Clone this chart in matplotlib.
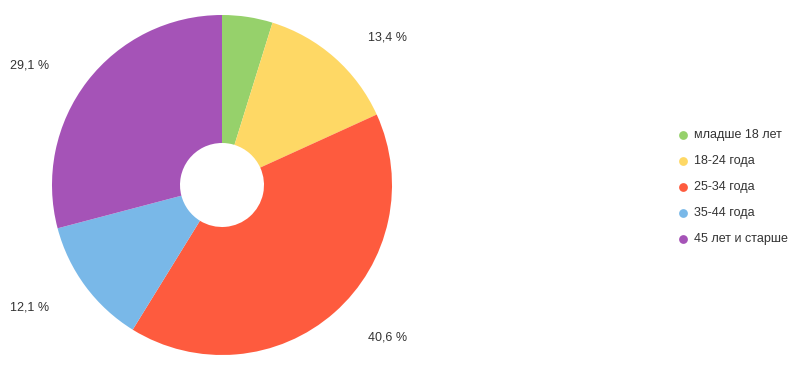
import matplotlib.pyplot as plt

categories = ["младше 18 лет", "18-24 года", "25-34 года", "35-44 года", "45 лет и старше"]
shares = [4.8, 13.4, 40.6, 12.1, 29.1]
colors = ["#96d16b", "#fed865", "#fe5b3e", "#79b8e8", "#a553b7"]
shown = [False, True, True, True, True]

# where the percent labels sit (pixels, from top-left)
label_pos = [None, (388, 38), (388, 337), (30, 308), (30, 65)]

W, H = 794, 387
fig = plt.figure(figsize=(W / 100, H / 100), dpi=100)
ax = fig.add_axes([0, 0, 1, 1])
ax.set_xlim(0, W)
ax.set_ylim(0, H)
ax.set_aspect("equal")
ax.axis("off")

cx, cy, r, hole = 222, H - 185, 170, 42
ax.pie(shares, colors=colors, startangle=90, counterclock=False,
       center=(cx, cy), radius=r, frame=True,
       wedgeprops=dict(width=r - hole, linewidth=0))
ax.set_xlim(0, W)
ax.set_ylim(0, H)
ax.axis("off")

for val, pos, show in zip(shares, label_pos, shown):
    if not show:
        continue
    txt = f"{val:.1f}".replace(".", ",") + " %"
    ax.text(pos[0], H - pos[1], txt, ha="center", va="center",
            fontsize=9, color="#333333", family="Arial" if False else "Liberation Sans")

# legend
for i, (name, col) in enumerate(zip(categories, colors)):
    y = H - (135 + 26 * i)
    ax.scatter([683], [y], s=40, color=col, linewidths=0)
    ax.text(694, y, name, ha="left", va="center", fontsize=9,
            color="#333333", family="Liberation Sans")

fig.savefig("out.png", dpi=100)
